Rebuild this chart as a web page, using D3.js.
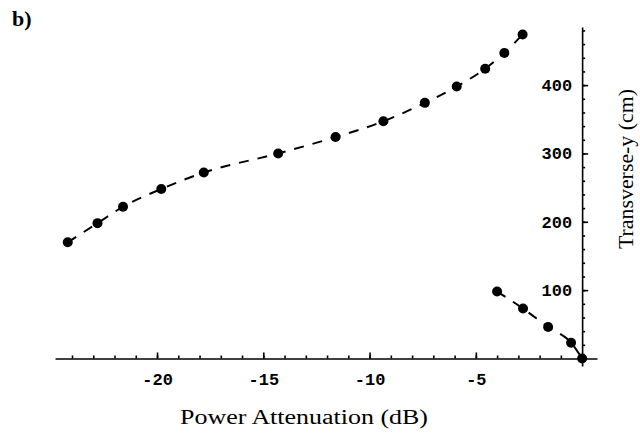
<!DOCTYPE html>
<head>
<meta charset="utf-8">
<style>
  body { margin: 0; background: #fff; }
  svg { display: block; }
  .axis path, .axis line { stroke: #000; stroke-width: 1.6px; }
  .axis text { font: bold 17px "Liberation Mono", "DejaVu Sans Mono", monospace; fill: #000; }
  .curve { fill: none; stroke: #000; stroke-width: 2px; stroke-dasharray: 10,9; }
  .label { font-family: "Liberation Serif", "DejaVu Serif", serif; fill: #000; }
</style>
</head>
<body>
<script src="https://d3js.org/d3.v7.min.js"></script>
<script>

// attenuation (dB) and transverse-y (cm)
var upperDb = [-24.2, -22.8, -21.6, -19.8, -17.8, -14.3, -11.6, -9.35, -7.4, -5.9, -4.56, -3.66, -2.8];
var upperY  = [170, 198, 222, 248, 272, 300, 324, 347, 374, 398, 424, 447, 474];
var lowerDb = [-4.0, -2.78, -1.6, -0.52, 0];
var lowerY  = [98, 73, 46, 23, 0];

var xMajor = [-20, -15, -10, -5];
var yMajor = [100, 200, 300, 400];

var width = 640, height = 437;

var svg = d3.select("body").append("svg")
    .attr("width", width)
    .attr("height", height);

var x = d3.scaleLinear().domain([-24.8, 0.7]).range([55, 597]);
var y = d3.scaleLinear().domain([-11, 485]).range([366, 27]);

var x0 = y(0), y0 = x(0);

// minor ticks first, then the labelled ones
svg.append("g")
    .attr("class", "axis")
    .attr("transform", "translate(0," + x0 + ")")
    .call(d3.axisBottom(x).tickValues(d3.range(-24, 1, 1)).tickSize(-3).tickSizeOuter(0).tickFormat(""));

svg.append("g")
    .attr("class", "axis")
    .attr("transform", "translate(0," + x0 + ")")
    .call(d3.axisBottom(x).tickValues(xMajor).tickSize(-6).tickSizeOuter(0).tickPadding(14)
      .tickFormat(function(d) { return String(d); }))
    .select(".domain").remove();

svg.append("g")
    .attr("class", "axis")
    .attr("transform", "translate(" + y0 + ",0)")
    .call(d3.axisLeft(y).tickValues(d3.range(20, 481, 20)).tickSize(-3).tickSizeOuter(0).tickFormat(""));

svg.append("g")
    .attr("class", "axis")
    .attr("transform", "translate(" + y0 + ",0)")
    .call(d3.axisLeft(y).tickValues(yMajor).tickSize(-6).tickSizeOuter(0).tickPadding(10)
      .tickFormat(function(d) { return String(d); }))
    .select(".domain").remove();

var line = d3.line()
    .curve(d3.curveMonotoneX)
    .x(function(d) { return x(d[0]); })
    .y(function(d) { return y(d[1]); });

var upper = d3.zip(upperDb, upperY),
    lower = d3.zip(lowerDb, lowerY);

[upper, lower].forEach(function(pts) {
  svg.append("path")
      .attr("class", "curve")
      .attr("d", line(pts));

  svg.append("g").selectAll("circle")
    .data(pts)
    .enter().append("circle")
      .attr("cx", function(d) { return x(d[0]); })
      .attr("cy", function(d) { return y(d[1]); })
      .attr("r", 5)
      .attr("fill", "#000");
});

svg.append("text")
    .attr("class", "label")
    .attr("x", 304)
    .attr("y", 424)
    .attr("text-anchor", "middle")
    .attr("font-size", 20)
    .attr("textLength", 248)
    .attr("lengthAdjust", "spacingAndGlyphs")
    .text("Power Attenuation (dB)");

svg.append("text")
    .attr("class", "label")
    .attr("transform", "translate(633,169)rotate(-90)")
    .attr("text-anchor", "middle")
    .attr("font-size", 20)
    .attr("textLength", 160)
    .attr("lengthAdjust", "spacingAndGlyphs")
    .text("Transverse-y (cm)");

svg.append("text")
    .attr("class", "label")
    .attr("x", 12)
    .attr("y", 26)
    .attr("font-size", 22)
    .attr("font-weight", 600)
    .text("b)");

</script>
</body>
